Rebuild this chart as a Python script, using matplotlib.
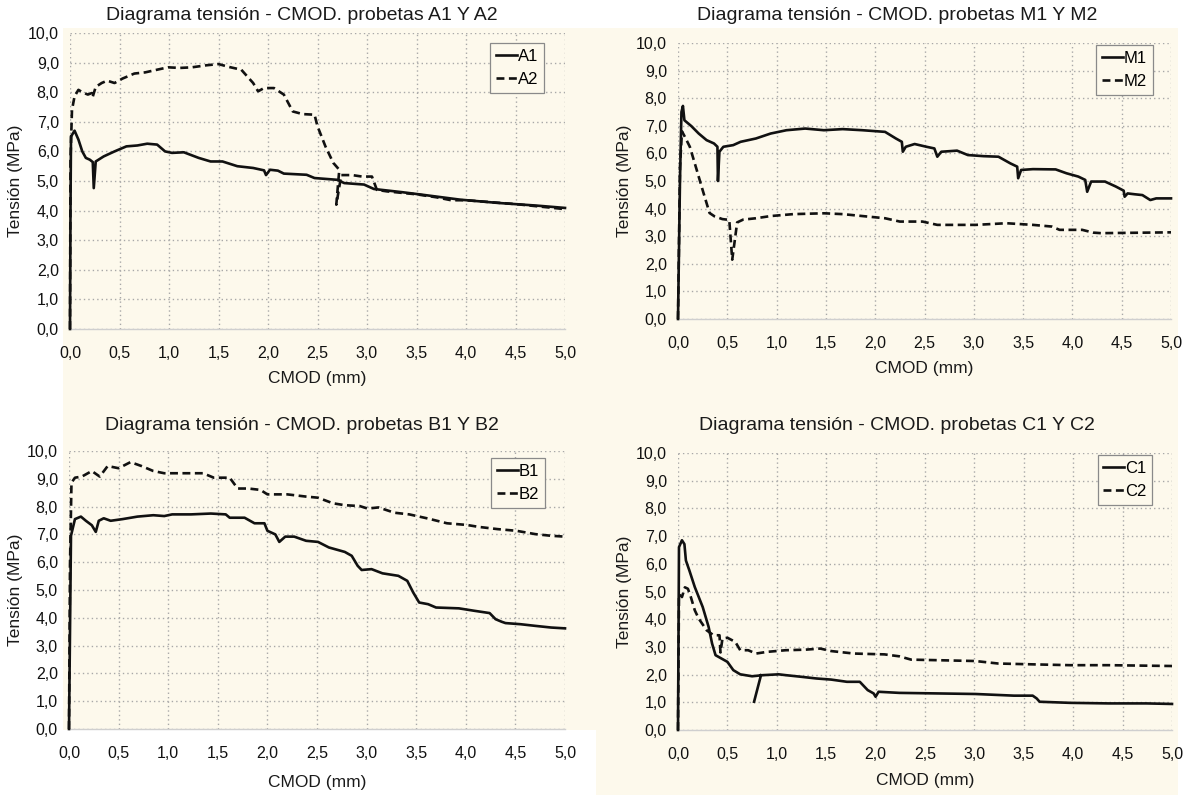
import numpy as np
import matplotlib
matplotlib.use("Agg")
import matplotlib.pyplot as plt
from matplotlib.patches import Rectangle

plt.rcParams['font.family'] = ['Liberation Sans', 'DejaVu Sans']

nan = np.nan

# ---------------- data ----------------
A1_x = [0.0, 0.005, 0.01, 0.046, 0.085, 0.124, 0.16, 0.2, 0.23, 0.24, 0.26, 0.34, 0.45, 0.57, 0.68, 0.78, 0.88,
        0.96, 1.03, 1.15, 1.3, 1.42, 1.54, 1.69, 1.85, 1.96, 1.98, 2.02, 2.1, 2.16, 2.39, 2.47, 2.7, 2.77,
        2.97, 3.07, 3.36, 3.55, 3.94, 4.32, 4.71, 5.0]
A1_y = [0.0, 4.0, 6.5, 6.7, 6.4, 6.0, 5.78, 5.72, 5.64, 4.76, 5.66, 5.83, 6.0, 6.17, 6.2, 6.26, 6.23,
        6.0, 5.95, 5.97, 5.78, 5.66, 5.66, 5.5, 5.44, 5.36, 5.2, 5.38, 5.35, 5.25, 5.21, 5.1, 5.04, 4.93,
        4.88, 4.73, 4.62, 4.54, 4.37, 4.26, 4.17, 4.09]

A2_x = [0.0, 0.005, 0.02, 0.046, 0.085, 0.124, 0.18, 0.22, 0.228, 0.26, 0.32, 0.375, 0.45, 0.53, 0.65, 0.76,
        0.88, 0.99, 1.11, 1.23, 1.38, 1.5, 1.61, 1.73, 1.85, 1.90, 1.96, 2.06, 2.16, 2.25, 2.35, 2.47, 2.50,
        2.58, 2.66, 2.72, 2.69, 2.74, 2.85, 2.95, 3.05, 3.1, 3.2, 3.5, 3.7, 3.85, 4.0, 4.5, 5.0]
A2_y = [0.0, 5.7, 7.4, 7.86, 8.08, 8.0, 7.92, 7.97, 7.83, 8.18, 8.31, 8.39, 8.31, 8.46, 8.63, 8.67,
        8.76, 8.84, 8.82, 8.84, 8.91, 8.95, 8.85, 8.76, 8.31, 8.03, 8.14, 8.14, 7.92, 7.35, 7.26, 7.24, 6.85,
        6.17, 5.61, 5.38, 4.2, 5.2, 5.2, 5.15, 5.15, 4.7, 4.65, 4.55, 4.45, 4.35, 4.35, 4.22, 4.05]

M1_x = [0.0, 0.02, 0.035, 0.05, 0.065, 0.135, 0.21, 0.29, 0.365, 0.40, 0.405, 0.42, 0.46, 0.56, 0.635, 0.79,
        0.94, 1.10, 1.29, 1.48, 1.67, 1.87, 2.10, 2.21, 2.27, 2.28, 2.31, 2.40, 2.52, 2.60, 2.63, 2.67, 2.83,
        2.94, 3.10, 3.25, 3.37, 3.44, 3.45, 3.48, 3.60, 3.83, 3.94, 4.06, 4.13, 4.15, 4.19, 4.33, 4.44, 4.52,
        4.53, 4.56, 4.63, 4.71, 4.79, 4.85, 5.0]
M1_y = [0.0, 5.0, 7.5, 7.72, 7.2, 6.99, 6.72, 6.48, 6.36, 6.24, 5.0, 6.06, 6.24, 6.30, 6.42, 6.54,
        6.72, 6.84, 6.9, 6.84, 6.88, 6.84, 6.78, 6.54, 6.42, 6.06, 6.24, 6.34, 6.24, 6.18, 5.88, 6.06, 6.1,
        5.94, 5.9, 5.88, 5.64, 5.52, 5.1, 5.40, 5.43, 5.42, 5.28, 5.16, 5.04, 4.61, 4.98, 4.98, 4.8, 4.65,
        4.43, 4.55, 4.52, 4.49, 4.31, 4.37, 4.37]

M2_x = [0.0, 0.02, 0.04, 0.07, 0.12, 0.19, 0.25, 0.32, 0.37, 0.45, 0.52, 0.55, 0.60, 0.66, 0.79, 0.94, 1.17,
        1.48, 1.67, 1.87, 2.1, 2.25, 2.48, 2.63, 3.02, 3.33, 3.6, 3.79, 3.87, 4.1, 4.21, 4.29, 5.0]
M2_y = [0.0, 5.5, 6.8, 6.6, 6.24, 5.4, 4.67, 3.84, 3.72, 3.62, 3.59, 2.15, 3.5, 3.6, 3.65, 3.73, 3.8,
        3.83, 3.8, 3.73, 3.65, 3.53, 3.53, 3.41, 3.41, 3.47, 3.41, 3.35, 3.23, 3.23, 3.13, 3.11, 3.14]

B1_x = [0.0, 0.02, 0.06, 0.12, 0.17, 0.23, 0.27, 0.30, 0.35, 0.42, 0.54, 0.69, 0.85, 0.96, 1.04, 1.23, 1.43,
        1.58, 1.62, 1.77, 1.87, 1.97, 2.0, 2.08, 2.12, 2.18, 2.27, 2.39, 2.51, 2.62, 2.78, 2.85, 2.91, 2.95,
        3.05, 3.16, 3.32, 3.41, 3.47, 3.53, 3.62, 3.70, 3.93, 4.09, 4.24, 4.30, 4.36, 4.4, 4.55, 4.70, 4.86, 5.0]
B1_y = [0.0, 6.95, 7.55, 7.64, 7.49, 7.33, 7.09, 7.49, 7.58, 7.49, 7.55, 7.64, 7.69, 7.66, 7.72, 7.72, 7.75,
        7.72, 7.6, 7.6, 7.4, 7.4, 7.13, 7.0, 6.73, 6.92, 6.92, 6.77, 6.73, 6.53, 6.37, 6.23, 5.87, 5.72,
        5.75, 5.6, 5.51, 5.33, 4.91, 4.55, 4.49, 4.37, 4.34, 4.25, 4.17, 3.95, 3.86, 3.81, 3.77, 3.71, 3.65, 3.62]

B2_x = [0.0, 0.01, 0.025, 0.06, 0.13, 0.23, 0.31, 0.39, 0.5, 0.62, 0.73, 0.85, 0.96, 1.23, 1.35, 1.46, 1.62,
        1.7, 1.81, 1.93, 2.0, 2.2, 2.39, 2.51, 2.66, 2.78, 2.93, 3.01, 3.12, 3.28, 3.43, 3.62, 3.81, 4.01,
        4.13, 4.32, 4.51, 4.70, 4.86, 5.0]
B2_y = [0.0, 5.9, 8.86, 9.04, 9.08, 9.28, 9.08, 9.46, 9.38, 9.6, 9.46, 9.28, 9.2, 9.2, 9.2, 9.04, 9.04,
        8.65, 8.65, 8.6, 8.44, 8.44, 8.36, 8.32, 8.12, 8.05, 8.02, 7.93, 7.97, 7.78, 7.72, 7.57, 7.4, 7.34,
        7.27, 7.19, 7.13, 7.01, 6.95, 6.92]

C1_x = [0.0, 0.01, 0.04, 0.065, 0.08, 0.115, 0.17, 0.25, 0.31, 0.345, 0.38, 0.44, 0.5, 0.56, 0.63, 0.75, 0.86,
        1.02, 1.09, 1.25, 1.40, 1.55, 1.71, 1.84, 1.92, 1.98, 2.0, 2.03, 2.24, 2.63, 3.01, 3.4, 3.59, 3.63,
        3.66, 3.97, 4.36, 4.74, 5.0, nan, 0.77, 0.84]
C1_y = [0.0, 6.6, 6.85, 6.71, 6.12, 5.76, 5.16, 4.44, 3.72, 3.12, 2.7, 2.58, 2.46, 2.16, 2.01, 1.94, 1.98,
        2.01, 1.98, 1.92, 1.86, 1.82, 1.74, 1.74, 1.44, 1.32, 1.2, 1.38, 1.34, 1.32, 1.3, 1.24, 1.24, 1.14,
        1.02, 0.98, 0.96, 0.96, 0.94, nan, 1.02, 1.98]

C2_x = [0.0, 0.01, 0.04, 0.07, 0.10, 0.13, 0.17, 0.21, 0.29, 0.36, 0.42, 0.43, 0.45, 0.5, 0.58, 0.63, 0.71,
        0.79, 0.9, 1.09, 1.29, 1.44, 1.55, 1.78, 2.09, 2.24, 2.36, 2.63, 3.01, 3.24, 3.59, 3.97, 4.36, 5.0]
C2_y = [0.0, 4.9, 4.8, 5.15, 5.1, 4.8, 4.32, 4.02, 3.6, 3.42, 3.42, 2.8, 3.3, 3.33, 3.18, 2.88, 2.88,
        2.76, 2.82, 2.88, 2.9, 2.94, 2.85, 2.76, 2.73, 2.66, 2.54, 2.52, 2.49, 2.4, 2.37, 2.34, 2.34, 2.31]

panels = [
    ("Diagrama tensión - CMOD. probetas A1 Y A2", ("A1", A1_x, A1_y), ("A2", A2_x, A2_y)),
    ("Diagrama tensión - CMOD. probetas M1 Y M2", ("M1", M1_x, M1_y), ("M2", M2_x, M2_y)),
    ("Diagrama tensión - CMOD. probetas B1 Y B2", ("B1", B1_x, B1_y), ("B2", B2_x, B2_y)),
    ("Diagrama tensión - CMOD. probetas C1 Y C2", ("C1", C1_x, C1_y), ("C2", C2_x, C2_y)),
]

x_ticks = np.arange(0, 5.01, 0.5)
y_ticks = np.arange(0, 10.01, 1.0)
x_labels = [f"{v:.1f}".replace('.', ',') for v in x_ticks]
y_labels = [f"{v:.1f}".replace('.', ',') for v in y_ticks]

# ---------------- layout ----------------
W, H = 1192, 795
fig = plt.figure(figsize=(W / 100, H / 100), dpi=100)
fig.patch.set_facecolor('white')

cream = '#fdf9ec'
for (x0, y0, x1, y1) in [(63, 28, 600, 400), (596, 28, 1178, 400), (63, 395, 600, 730), (596, 400, 1178, 795)]:
    fig.patches.append(Rectangle((x0 / W, 1 - y1 / H), (x1 - x0) / W, (y1 - y0) / H,
                                 transform=fig.transFigure, facecolor=cream, edgecolor='none', zorder=-5))

# axes boxes in pixels: left, right, top, bottom
boxes = [(70, 565, 33, 329), (678, 1171, 43, 319), (69, 565, 451, 729), (678, 1172, 453, 730)]
title_px = [(302, 16), (897, 16), (302, 425), (897, 425)]
legend_anchor = [(0.958, 0.966), (0.963, 0.993), (0.96, 0.975), (0.96, 0.993)]
ylabel_px = [16, 625, 16, 625]
xlabel_py = [378, 368, 782, 780]

for i, (title, s1, s2) in enumerate(panels):
    l, r, t, b = boxes[i]
    ax = fig.add_axes([l / W, 1 - b / H, (r - l) / W, (b - t) / H])
    ax.set_zorder(2)
    ax.set_facecolor(cream)
    ax.set_xlim(0, 5)
    ax.set_ylim(0, 10)
    ax.set_xticks(x_ticks)
    ax.set_xticklabels(x_labels)
    ax.set_yticks(y_ticks)
    ax.set_yticklabels(y_labels)
    ax.tick_params(length=0, labelsize=11.5, colors='#111111')
    ax.tick_params(axis='x', pad=12)
    ax.tick_params(axis='y', pad=8)
    ax.grid(True, color='#a8a8a8', linestyle=(0, (1, 2.2)), linewidth=1.0)
    ax.set_axisbelow(True)
    for sp in ['top', 'left', 'right']:
        ax.spines[sp].set_visible(False)
    ax.spines['bottom'].set_color('#cfcfcf')
    ax.spines['bottom'].set_linewidth(1.0)

    name1, x1, y1 = s1
    name2, x2, y2 = s2
    ax.plot(x2, y2, color='#111111', linewidth=1.9, linestyle=(0, (3.0, 1.7)), label=name2, clip_on=False, zorder=3)
    ax.plot(x1, y1, color='#111111', linewidth=1.9, linestyle='-', label=name1, clip_on=False, zorder=4)

    h, lab = ax.get_legend_handles_labels()
    leg = ax.legend([h[1], h[0]], [lab[1], lab[0]], loc='upper right', bbox_to_anchor=legend_anchor[i],
                    borderaxespad=0, fontsize=12, handlelength=1.25, handletextpad=0.05,
                    borderpad=0.35, labelspacing=0.5, fancybox=False, framealpha=1,
                    facecolor=cream, edgecolor='#8a8a8a')
    leg.get_frame().set_linewidth(0.9)

    tx, ty = title_px[i]
    fig.text(tx / W, 1 - ty / H, title, ha='center', va='center', fontsize=14, color='#1a1a1a')
    fig.text(ylabel_px[i] / W, 1 - ((t + b) / 2) / H, "Tensión (MPa)", rotation=90,
             ha='center', va='center', fontsize=12.5, color='#1a1a1a')
    fig.text(((l + r) / 2) / W, 1 - xlabel_py[i] / H, "CMOD (mm)", ha='center', va='center',
             fontsize=12.5, color='#1a1a1a')

fig.savefig("out.png", dpi=100, facecolor=fig.get_facecolor())
